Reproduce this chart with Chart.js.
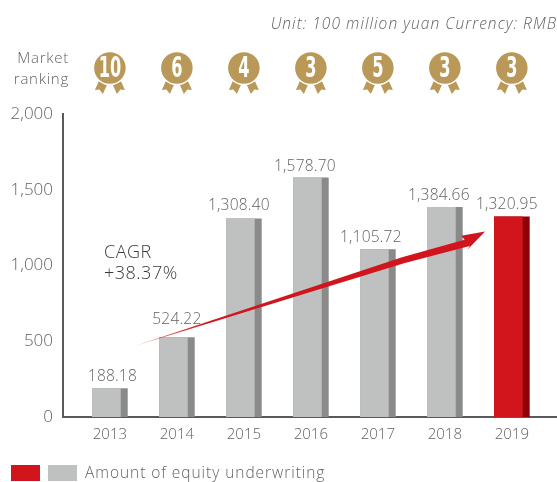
<!DOCTYPE html>
<html><head><meta charset="utf-8">
<style>html,body{margin:0;padding:0;background:#fff}#w{width:557px;height:482px;position:relative}</style>
<script src="https://cdn.jsdelivr.net/npm/chart.js@4"></script>
</head><body><div id="w"><canvas id="c" width="557" height="482"></canvas></div>
<script>
const categories = [2013, 2014, 2015, 2016, 2017, 2018, 2019];
const amounts = [188.18, 524.22, 1308.40, 1578.70, 1105.72, 1384.66, 1320.95];
const amountLabels = ['188.18', '524.22', '1,308.40', '1,578.70', '1,105.72', '1,384.66', '1,320.95'];
const rankings = ['10', '6', '4', '3', '5', '3', '3'];
const yTicks = [0, 500, 1000, 1500, 2000];
const unitText = 'Unit: 100 million yuan Currency: RMB';
const legendText = 'Amount of equity underwriting';
const rankingTitle = ['Market', 'ranking'];
const cagrText = ['CAGR', '+38.37%'];
const arrowFrom = [2013.3, 458];
const arrowTo = [2018.6, 1225];

const FONT = '"Open Sans", sans-serif';
const TXT = '#626262';
const isLast = i => i === categories.length - 1;
const pts = amounts.map((v, i) => ({x: categories[i], y: v}));

const labelShift = {
  2013: [2.5, 0], 2014: [0, 7], 2015: [-5, 2], 2016: [-6, 0],
  2017: [-7, 0], 2018: [-6, 0], 2019: [-5, 1]
};

const decor = {
  id: 'decor',
  afterDatasetsDraw(chart) {
    const {ctx, scales: {x, y}} = chart;
    ctx.save();
    // CAGR arrow
    const x0 = x.getPixelForValue(arrowFrom[0]), y0 = y.getPixelForValue(arrowFrom[1]);
    const x1 = x.getPixelForValue(arrowTo[0]), y1 = y.getPixelForValue(arrowTo[1]);
    const a = Math.atan2(y1 - y0, x1 - x0), L = Math.hypot(x1 - x0, y1 - y0);
    ctx.translate(x0, y0); ctx.rotate(a);
    const g = ctx.createLinearGradient(0, 0, L, 0);
    g.addColorStop(0, 'rgba(210,20,28,0.1)');
    g.addColorStop(0.1, 'rgba(210,20,28,0.7)');
    g.addColorStop(0.22, '#d2141c');
    g.addColorStop(1, '#d2141c');
    ctx.fillStyle = g;
    ctx.beginPath();
    ctx.moveTo(0, 0);
    ctx.lineTo(L - 87, -1.2);
    ctx.lineTo(L - 22, 1.5);
    ctx.lineTo(L - 24, -3.4);
    ctx.lineTo(L, 0);
    ctx.lineTo(L - 22.5, 12);
    ctx.lineTo(L - 19, 9);
    ctx.lineTo(L - 87, 5.1);
    ctx.closePath();
    ctx.fill();
    ctx.restore();

    ctx.save();
    // value labels
    ctx.fillStyle = TXT;
    ctx.letterSpacing = '0.2px';
    ctx.font = '300 15.5px ' + FONT;
    ctx.textAlign = 'center';
    ctx.textBaseline = 'alphabetic';
    const bars = chart.getDatasetMeta(1).data;
    bars.forEach((b, i) => {
      const s = labelShift[categories[i]];
      ctx.fillText(amountLabels[i], x.getPixelForValue(categories[i]) + s[0], b.y - 7 - s[1]);
    });

    // unit note
    ctx.textAlign = 'right';
    ctx.letterSpacing = '1.05px';
    ctx.font = 'italic 300 15.5px ' + FONT;
    ctx.fillText(unitText, 557, 29);

    // ranking title
    ctx.letterSpacing = '0.75px';
    ctx.font = '300 15px ' + FONT;
    ctx.fillText(rankingTitle[0], 69, 63);
    ctx.fillText(rankingTitle[1], 69, 84);

    // CAGR
    ctx.textAlign = 'left';
    ctx.fillStyle = '#3a3a3a';
    ctx.letterSpacing = '0.5px';
    ctx.font = '300 18px ' + FONT;
    ctx.fillText(cagrText[0], 104, 258);
    ctx.fillText(cagrText[1], 104, 279);

    // legend
    ctx.fillStyle = '#d2141c'; ctx.fillRect(11, 465, 29, 16);
    ctx.fillStyle = '#bfc1c0'; ctx.fillRect(48, 465, 29, 16);
    ctx.fillStyle = TXT;
    ctx.letterSpacing = '0.95px';
    ctx.font = '300 15.5px ' + FONT;
    ctx.fillText(legendText, 85, 478);
    ctx.letterSpacing = '0px';

    // medals
    const gold = '#b99858';
    rankings.forEach((r, i) => {
      const cx = x.getPixelForValue(categories[i]), cy = 68;
      ctx.fillStyle = gold;
      [-1, 1].forEach(s => {
        ctx.beginPath();
        ctx.moveTo(cx + s * 3, 85);
        ctx.lineTo(cx + s * 11, 81);
        ctx.lineTo(cx + s * 15, 90);
        ctx.lineTo(cx + s * 10.5, 89.5);
        ctx.lineTo(cx + s * 7, 94);
        ctx.closePath();
        ctx.fill();
      });
      ctx.strokeStyle = '#fff'; ctx.lineWidth = 1.5;
      ctx.beginPath(); ctx.arc(cx, cy, 16.5, 0, Math.PI * 2); ctx.fill(); ctx.stroke();
      ctx.save();
      ctx.translate(cx, cy);
      ctx.scale(0.62, 1);
      ctx.fillStyle = '#fff';
      ctx.font = 'bold 29px "DejaVu Sans Condensed","DejaVu Sans",sans-serif';
      ctx.textAlign = 'center'; ctx.textBaseline = 'middle';
      ctx.fillText(r, 0, 1);
      ctx.restore();
    });
    ctx.restore();
  }
};

const span = [2012.30, 2019.674];
const frontShift = 0.052;

new Chart(document.getElementById('c'), {
  type: 'bar',
  data: {
    datasets: [
      {label: 'side', data: pts, xAxisID: 'x', yAxisID: 'y', barThickness: 35, order: 2, grouped: false,
       backgroundColor: amounts.map((_, i) => isLast(i) ? '#8e0005' : '#8a8a8a')},
      {label: legendText, data: pts, xAxisID: 'xFront', yAxisID: 'y', barThickness: 28, order: 1, grouped: false,
       backgroundColor: amounts.map((_, i) => isLast(i) ? '#d2141c' : '#bfc1c0')}
    ]
  },
  plugins: [decor],
  options: {
    responsive: false,
    animation: false,
    layout: {padding: {top: 114, left: 0, right: 0, bottom: 0}},
    plugins: {legend: {display: false}, tooltip: {enabled: false}},
    scales: {
      x: {
        type: 'linear', position: 'bottom', min: span[0], max: span[1], offset: false,
        grid: {display: false, drawTicks: false, offset: false},
        border: {display: true, color: '#5a5a5a', width: 2},
        afterFit(s) { s.height = 65; },
        ticks: {
          stepSize: 1, includeBounds: false, autoSkip: false, maxRotation: 0, padding: 9,
          color: TXT, font: {family: FONT, size: 15, weight: '300'},
          callback: v => categories.includes(v) ? String(v) : ''
        }
      },
      xFront: {type: 'linear', display: false, offset: false, min: span[0] + frontShift, max: span[1] + frontShift},
      y: {
        min: 0, max: 2000,
        grid: {display: false, drawTicks: false},
        border: {display: true, color: '#5a5a5a', width: 2},
        afterFit(s) { s.width = 63; },
        afterBuildTicks(s) { s.ticks = yTicks.map(v => ({value: v})); },
        ticks: {
          padding: 10, color: TXT, font: {family: FONT, size: 17, weight: '300'},
          callback: v => v.toLocaleString('en-US')
        }
      }
    }
  }
});
</script></body></html>
